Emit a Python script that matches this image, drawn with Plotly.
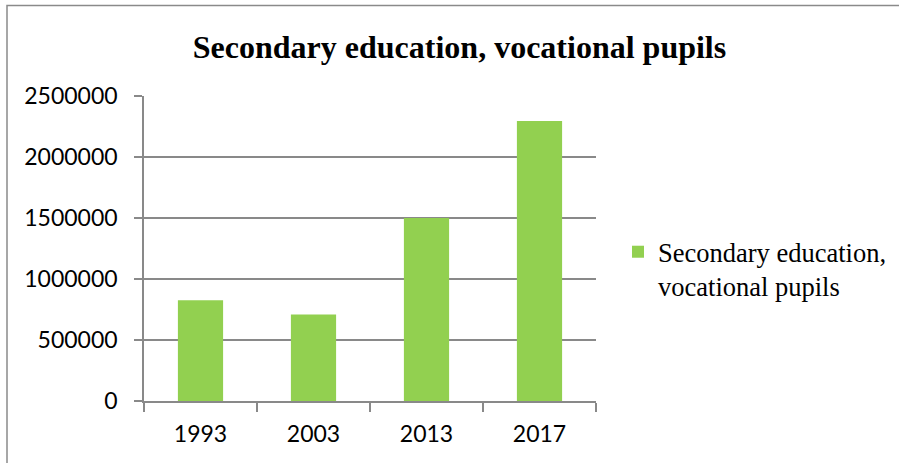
import plotly.graph_objects as go

# Vocational pupils in secondary education, by year
years = ["1993", "2003", "2013", "2017"]
pupils = [825000, 710000, 1500000, 2295000]
y_ticks = [0, 500000, 1000000, 1500000, 2000000, 2500000]
series_name = "Secondary education,<br>vocational pupils"
chart_title = "Secondary education, vocational pupils"

W, H = 899, 463
L, R, T, B = 144, 303, 96, 62
GRID = "#898989"

fig = go.Figure(
    go.Bar(
        x=years,
        y=pupils,
        name=series_name,
        marker=dict(color="#92D050", line=dict(width=0)),
        showlegend=True,
    )
)

# outer chart frame (runs off the right and bottom edges)
pw, ph = W - L - R, H - T - B
def px_x(v):
    return (v - L) / pw
def px_y(v):
    return (H - B - v) / ph

fig.add_shape(
    type="rect", xref="paper", yref="paper",
    x0=px_x(7), x1=px_x(W + 10), y0=px_y(5.5), y1=px_y(H + 10),
    line=dict(color="#8a8a8a", width=1.5), fillcolor="rgba(0,0,0,0)",
    layer="below",
)

fig.update_layout(
    width=W, height=H,
    margin=dict(l=L, r=R, t=T, b=B, pad=0),
    paper_bgcolor="white", plot_bgcolor="white",
    bargap=0.6,
    title=dict(
        text="<b>" + chart_title + "</b>",
        font=dict(family="Liberation Serif", size=32, color="black"),
        x=459.5 / W, xanchor="center", xref="container",
        y=1 - 47 / H, yanchor="middle", yref="container",
    ),
    legend=dict(
        xref="container", yref="container",
        x=618 / W, xanchor="left",
        y=1 - 228 / H, yanchor="top",
        valign="top",
        font=dict(family="Liberation Serif", size=26.5, color="black"),
        bgcolor="rgba(0,0,0,0)",
        itemsizing="constant",
    ),
    xaxis=dict(
        type="category",
        tickson="boundaries",
        ticks="outside", ticklen=9, tickwidth=1.5, tickcolor=GRID,
        showline=True, linecolor=GRID, linewidth=1.5,
        showgrid=False,
        tickfont=dict(family="Lato", size=23, color="black"),
        ticklabelstandoff=12,
    ),
    yaxis=dict(
        range=[0, 2500000],
        tickvals=y_ticks,
        ticktext=[str(v) for v in y_ticks],
        ticks="outside", ticklen=8, tickwidth=1.5, tickcolor=GRID,
        showline=True, linecolor=GRID, linewidth=1.5,
        showgrid=True, gridcolor=GRID, gridwidth=1.5,
        zeroline=False,
        tickfont=dict(family="Lato", size=23, color="black"),
        ticklabelstandoff=12,
    ),
)

fig.write_html("out.html")
